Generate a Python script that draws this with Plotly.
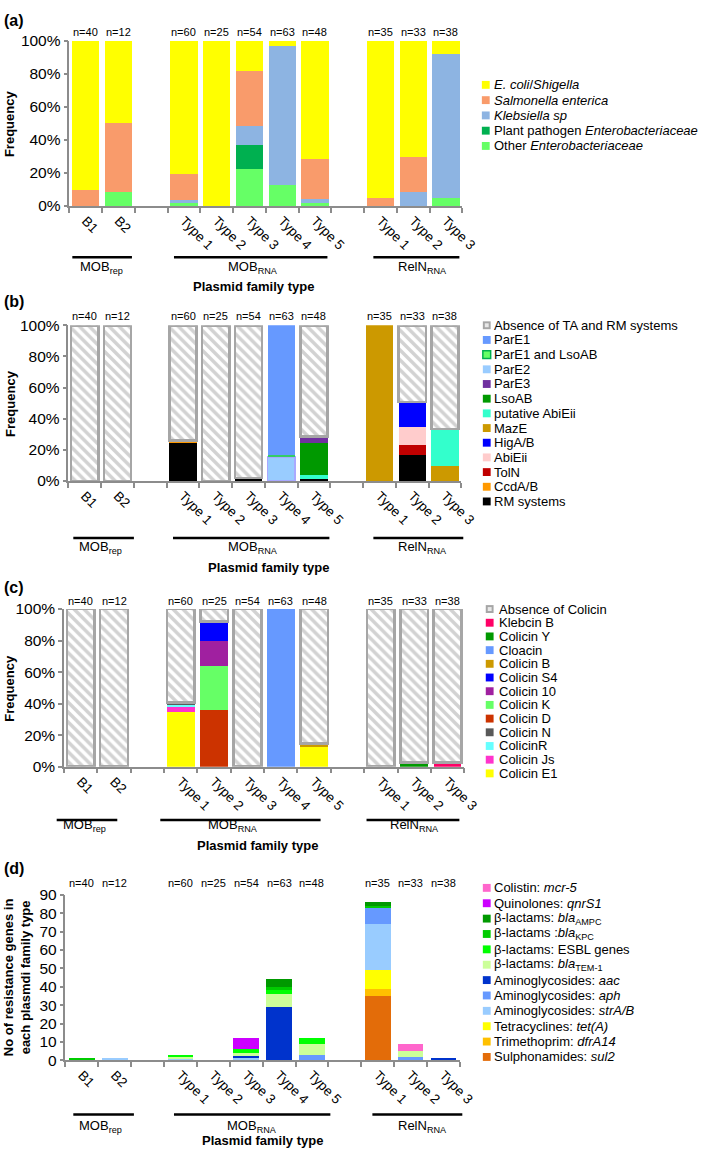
import plotly.graph_objects as go

W, H = 708, 1155
FONT = "Liberation Sans, Arial, sans-serif"
GREY = "#8C8C8C"
HATCH = "#A6A6A6"

# ---------------- data ----------------
categories = ["B1", "B2", "Type 1", "Type 2", "Type 3", "Type 4", "Type 5", "Type 1", "Type 2", "Type 3"]
group_names = ["MOB<sub>rep</sub>", "MOB<sub>RNA</sub>", "RelN<sub>RNA</sub>"]
group_sizes = [2, 5, 3]
n_plasmids = [40, 12, 60, 25, 54, 63, 48, 35, 33, 38]

# (a) host range, % (legend order)
host_labels = ["<i>E. coli</i>/<i>Shigella</i>", "<i>Salmonella enterica</i>", "<i>Klebsiella sp</i>",
               "Plant pathogen <i>Enterobacteriaceae</i>", "Other <i>Enterobacteriaceae</i>"]
host_ecoli = [90.5, 50.0, 80.5, 100, 18.6, 3.2, 71.6, 95.0, 70.3, 7.9]
host_salmonella = [9.5, 41.7, 16.1, 0, 33.3, 0, 24.2, 5.0, 21.2, 0]
host_klebsiella = [0, 0, 1.7, 0, 11.1, 84.1, 2.1, 0, 8.5, 87.1]
host_plant = [0, 0, 0, 0, 14.8, 0, 0, 0, 0, 0]
host_other = [0, 8.3, 1.7, 0, 22.2, 12.7, 2.1, 0, 0, 5.0]

# (b) TA and RM systems, % (legend order)
ta_labels = ["Absence of TA and RM systems", "ParE1", "ParE1 and LsoAB", "ParE2", "ParE3", "LsoAB",
             "putative AbiEii", "MazE", "HigA/B", "AbiEii", "TolN", "CcdA/B", "RM systems"]
ta_absence = [100, 100, 74.0, 100, 98.1, 0, 71.4, 0, 49.3, 66.6]
ta_pare1 = [0, 0, 0, 0, 0, 83.3, 0, 0, 0, 0]
ta_pare1_lsoab = [0, 0, 0, 0, 0, 1.3, 0, 0, 0, 0]
ta_pare2 = [0, 0, 0, 0, 0, 15.4, 0, 0, 0, 0]
ta_pare3 = [0, 0, 0, 0, 0, 0, 4.4, 0, 0, 0]
ta_lsoab = [0, 0, 0, 0, 0, 0, 20.4, 0, 0, 0]
ta_putative_abieii = [0, 0, 0, 0, 0, 0, 2.8, 0, 0, 24.1]
ta_maze = [0, 0, 0, 0, 0, 0, 0, 100, 0, 9.3]
ta_higab = [0, 0, 0, 0, 0, 0, 0, 0, 15.8, 0]
ta_abieii = [0, 0, 0, 0, 0, 0, 0, 0, 12.1, 0]
ta_toln = [0, 0, 0, 0, 0, 0, 0, 0, 5.9, 0]
ta_ccdab = [0, 0, 1.8, 0, 0, 0, 0, 0, 0, 0]
ta_rm = [0, 0, 24.2, 0, 1.9, 0, 1.0, 0, 16.9, 0]

# (c) colicins, % (legend order)
col_labels = ["Absence of Colicin", "Klebcin B", "Colicin Y", "Cloacin", "Colicin B", "Colicin S4",
              "Colicin 10", "Colicin K", "Colicin D", "Colicin N", "ColicinR", "Colicin Js", "Colicin E1"]
col_absence = [100, 100, 59.3, 8.0, 100, 0, 85.4, 100, 97.5, 97.5]
col_klebcin_b = [0, 0, 0, 0, 0, 0, 0, 0, 0, 2.5]
col_y = [0, 0, 0, 0, 0, 0, 0, 0, 2.5, 0]
col_cloacin = [0, 0, 0, 0, 0, 100, 0, 0, 0, 0]
col_b = [0, 0, 0, 0, 0, 0, 2.1, 0, 0, 0]
col_s4 = [0, 0, 0, 12.4, 0, 0, 0, 0, 0, 0]
col_10 = [0, 0, 0, 16.0, 0, 0, 0, 0, 0, 0]
col_k = [0, 0, 0, 27.6, 0, 0, 0, 0, 0, 0]
col_d = [0, 0, 0, 36.0, 0, 0, 0, 0, 0, 0]
col_n = [0, 0, 1.6, 0, 0, 0, 0, 0, 0, 0]
col_r = [0, 0, 1.5, 0, 0, 0, 0, 0, 0, 0]
col_js = [0, 0, 3.1, 0, 0, 0, 0, 0, 0, 0]
col_e1 = [0, 0, 34.5, 0, 0, 0, 12.5, 0, 0, 0]

# (d) resistance genes, counts (legend order)
res_labels = ["Colistin: <i>mcr-5</i>", "Quinolones: <i>qnrS1</i>", "β-lactams: <i>bla</i><sub>AMPC</sub>",
              "β-lactams :<i>bla</i><sub>KPC</sub>", "β-lactams: ESBL genes", "β-lactams: <i>bla</i><sub>TEM-1</sub>",
              "Aminoglycosides: <i>aac</i>", "Aminoglycosides: <i>aph</i>", "Aminoglycosides: <i>strA/B</i>",
              "Tetracyclines: <i>tet(A)</i>", "Trimethoprim: <i>dfrA14</i>", "Sulphonamides: <i>sul2</i>"]
res_mcr5 = [0, 0, 0, 0, 0, 0, 0, 0, 4, 0]
res_qnrs1 = [0, 0, 0, 0, 6, 0, 0, 0, 0, 0]
res_ampc = [0, 0, 0, 0, 0, 4, 0, 2, 0, 0]
res_kpc = [1, 0, 0, 0, 0, 2, 0, 1, 0, 0]
res_esbl = [0, 0, 1, 0, 2, 2, 3, 0, 0, 0]
res_tem1 = [0, 0, 1, 0, 1, 7, 6, 0, 3, 0]
res_aac = [0, 0, 0, 0, 2, 29, 0, 0, 0, 1]
res_aph = [0, 0, 0, 0, 0, 0, 3, 9, 2, 0]
res_strab = [0, 1, 1, 0, 1, 0, 0, 25, 0, 0]
res_teta = [0, 0, 0, 0, 0, 0, 0, 10, 0, 0]
res_dfra14 = [0, 0, 0, 0, 0, 0, 0, 4, 0, 0]
res_sul2 = [0, 0, 0, 0, 0, 0, 0, 35, 0, 0]

# ---------------- styles ----------------
host_series = list(zip(host_labels,
                       [host_ecoli, host_salmonella, host_klebsiella, host_plant, host_other],
                       ["#FFFF00", "#F99B6B", "#8DB4E2", "#00B050", "#66FF66"]))
ta_series = list(zip(ta_labels,
                     [ta_absence, ta_pare1, ta_pare1_lsoab, ta_pare2, ta_pare3, ta_lsoab, ta_putative_abieii,
                      ta_maze, ta_higab, ta_abieii, ta_toln, ta_ccdab, ta_rm],
                     ["HATCH", "#6699FF", "#33CC66", "#99CCFF", "#7030A0", "#009900", "#33FFCC",
                      "#CC9900", "#0000FF", "#FFCCCC", "#C00000", "#FF9900", "#000000"]))
col_series = list(zip(col_labels,
                      [col_absence, col_klebcin_b, col_y, col_cloacin, col_b, col_s4, col_10, col_k, col_d,
                       col_n, col_r, col_js, col_e1],
                      ["HATCH", "#FF0066", "#009900", "#6699FF", "#CC9900", "#0000FF", "#A020A0",
                       "#66FF66", "#CC3300", "#595959", "#66FFFF", "#FF33CC", "#FFFF00"]))
res_series = list(zip(res_labels,
                      [res_mcr5, res_qnrs1, res_ampc, res_kpc, res_esbl, res_tem1, res_aac, res_aph,
                       res_strab, res_teta, res_dfra14, res_sul2],
                      ["#FF66CC", "#CC00FF", "#009900", "#00CC00", "#00FF00", "#CCFF99", "#0033CC",
                       "#6699FF", "#99CCFF", "#FFFF00", "#FFC000", "#E36C09"]))

# slot positions of categories (one empty slot between groups)
positions = []
slot = 0
for size in group_sizes:
    for _ in range(size):
        positions.append(slot)
        slot += 1
    slot += 1
n_slots = slot - 1
boundaries = [i - 0.5 for i in range(n_slots + 1)]


def px_x(p):
    return p / W


def px_y(p):
    return 1 - p / H


panels = [
    dict(tag="(a)", series=host_series, xd=(71, 473), yd=(32, 200), yr=[0, 100], dt=20, suf="%", lab_y=12,
         n_y=23, gl_y=252, gl=[(74, 135), (178, 335), (382, 470)], gt_y=262, gt_x=[104, 259, 432],
         title=(259, 282), width=0.83,
         leg=dict(sq=493, tx=503, y0=77, dy=15.5)),
    dict(tag="(b)", series=ta_series, xd=(70, 472), yd=(321, 479), yr=[0, 100], dt=20, suf="%", lab_y=297,
         n_y=312, gl_y=537, gl=[(75, 137), (177, 337), (382, 474)], gt_y=547, gt_x=[103, 259, 432],
         title=(275, 567), width=0.83,
         leg=dict(sq=494, tx=503, y0=321, dy=14.9)),
    dict(tag="(c)", series=col_series, xd=(65.5, 475), yd=(609, 769), yr=[0, 100], dt=20, suf="%", lab_y=587,
         n_y=601, gl_y=823, gl=[(58, 120), (164, 328), (375, 470)], gt_y=829, gt_x=[86, 238, 424],
         title=(263, 849), width=0.83,
         leg=dict(sq=497, tx=508, y0=609, dy=13.9)),
    dict(tag="(d)", series=res_series, xd=(67, 470.5), yd=(899, 1067), yr=[0, 90], dt=10, suf="", lab_y=872,
         n_y=887, gl_y=1122, gl=[(75, 137), (178, 338), (381, 473)], gt_y=1134, gt_x=[103, 258, 432],
         title=(269, 1148), width=0.78,
         leg=dict(sq=494, tx=503, y0=892, dy=15.6)),
]

fig = go.Figure()
shapes = []
annotations = []
layout = {}

for i, p in enumerate(panels):
    k = "" if i == 0 else str(i + 1)
    xname, yname = "x" + k, "y" + k
    # bars: stack bottom-up = reverse legend order
    for label, vals, color in reversed(p["series"]):
        yvals = [v if v else None for v in vals]
        if color == "HATCH":
            marker = dict(color="white",
                          pattern=dict(shape="\\", fgcolor=HATCH, bgcolor="white", size=7, solidity=0.5),
                          line=dict(color=HATCH, width=2.5))
        elif label == "ParE2":
            marker = dict(color=color, line=dict(color="#A9A9FF", width=1.5))
        else:
            marker = dict(color=color, line=dict(width=0))
        fig.add_trace(go.Bar(x=positions, y=yvals, width=p["width"], marker=marker, name=label,
                             showlegend=False, xaxis=xname, yaxis=yname, hoverinfo="skip"))

    x0, x1 = p["xd"]
    yt, yb = p["yd"]
    layout["xaxis" + k] = dict(
        domain=[px_x(x0), px_x(x1)], anchor=yname, range=[-0.5, n_slots - 0.5],
        showline=True, linecolor=GREY, linewidth=1.5, showgrid=False, zeroline=False,
        tickmode="array", tickvals=positions, ticktext=categories, tickangle=45, ticks="", ticklen=0,
        tickfont=dict(family=FONT, size=13.5, color="#000000"),
        minor=dict(tickmode="array", tickvals=boundaries, ticks="outside", ticklen=5,
                   tickcolor=GREY, tickwidth=1.5, showgrid=False),
    )
    layout["yaxis" + k] = dict(
        domain=[px_y(yb), px_y(yt)], anchor=xname, range=p["yr"], dtick=p["dt"], tick0=0,
        ticksuffix=p["suf"], showline=True, linecolor=GREY, linewidth=1.5, showgrid=False, zeroline=False,
        ticks="outside", ticklen=4, tickcolor=GREY, tickwidth=1.5,
        tickfont=dict(family=FONT, size=15.5, color="#000000"),
    )

    # panel tag
    annotations.append(dict(text="<b>%s</b>" % p["tag"], x=px_x(2), y=px_y(p["lab_y"]), xref="paper",
                            yref="paper", xanchor="left", yanchor="middle", showarrow=False,
                            font=dict(family=FONT, size=16, color="#000000")))
    # n labels
    for pos, n in zip(positions, n_plasmids):
        annotations.append(dict(text="n=%d" % n, x=pos, y=px_y(p["n_y"]), xref=xname, yref="paper",
                                xanchor="center", yanchor="middle", showarrow=False,
                                font=dict(family=FONT, size=11, color="#000000")))
    # y title
    if i < 3:
        annotations.append(dict(text="<b>Frequency</b>", x=px_x(10), y=px_y((yt + yb) / 2), xref="paper",
                                yref="paper", textangle=-90, xanchor="center", yanchor="middle",
                                showarrow=False, font=dict(family=FONT, size=13, color="#000000")))
    else:
        annotations.append(dict(text="<b>No of resistance genes in<br>each plasmdi family type</b>",
                                x=px_x(17), y=px_y((yt + yb) / 2), xref="paper", yref="paper",
                                textangle=-90, xanchor="center", yanchor="middle", showarrow=False,
                                font=dict(family=FONT, size=13, color="#000000")))
    # group lines and labels
    for (g0, g1), gx, gname in zip(p["gl"], p["gt_x"], group_names):
        shapes.append(dict(type="line", xref="paper", yref="paper", x0=px_x(g0), x1=px_x(g1),
                           y0=px_y(p["gl_y"]), y1=px_y(p["gl_y"]), line=dict(color="#000000", width=2.5)))
        annotations.append(dict(text=gname, x=px_x(gx), y=px_y(p["gt_y"]), xref="paper", yref="paper",
                                xanchor="center", yanchor="middle", showarrow=False,
                                font=dict(family=FONT, size=13, color="#000000")))
    # axis title
    annotations.append(dict(text="<b>Plasmid family type</b>", x=px_x(p["title"][0]), y=px_y(p["title"][1]),
                            xref="paper", yref="paper", xanchor="center", yanchor="middle", showarrow=False,
                            font=dict(family=FONT, size=13, color="#000000")))
    # legend (drawn manually)
    lg = p["leg"]
    for j, (label, vals, color) in enumerate(p["series"]):
        cy = lg["y0"] + j * lg["dy"]
        fill = HATCH if color == "HATCH" else color
        shapes.append(dict(type="rect", xref="paper", yref="paper", x0=px_x(lg["sq"]), x1=px_x(lg["sq"] + 8),
                           y0=px_y(cy + 4), y1=px_y(cy - 4), fillcolor=fill, line=dict(width=0)))
        if color == "HATCH":
            shapes.append(dict(type="rect", xref="paper", yref="paper", x0=px_x(lg["sq"] + 2),
                               x1=px_x(lg["sq"] + 6), y0=px_y(cy + 2), y1=px_y(cy - 2),
                               fillcolor="#E8E8E8", line=dict(width=0)))
        if label == "ParE1 and LsoAB":
            shapes[-1]["line"] = dict(color="#00B050", width=1.5)
            shapes[-1]["fillcolor"] = "#66FF66"
        annotations.append(dict(text=label, x=px_x(lg["tx"]), y=px_y(cy), xref="paper", yref="paper",
                                xanchor="left", yanchor="middle", showarrow=False,
                                font=dict(family=FONT, size=13, color="#000000")))

fig.update_layout(
    width=W, height=H, margin=dict(l=0, r=0, t=0, b=0),
    paper_bgcolor="white", plot_bgcolor="white", barmode="stack",
    font=dict(family=FONT, color="#000000"),
    shapes=shapes, annotations=annotations, showlegend=False,
    **layout,
)

fig.write_html("out.html", config={"displayModeBar": False},
               post_script="document.documentElement.style.overflow='hidden';"
                           "document.body.style.margin='0';document.body.style.overflow='hidden';")
